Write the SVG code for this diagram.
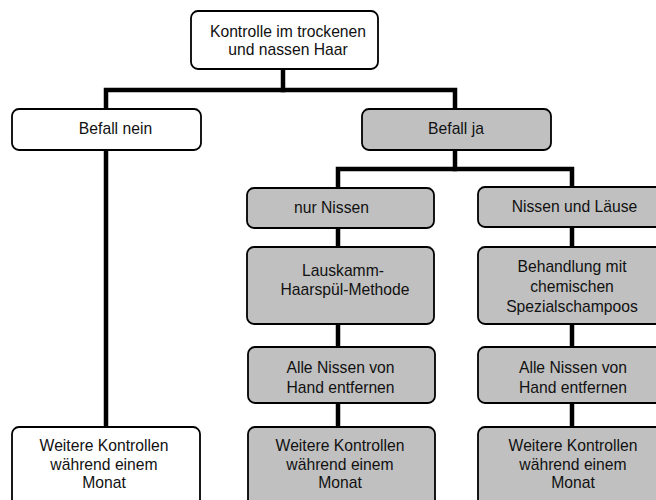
<svg xmlns="http://www.w3.org/2000/svg" width="656" height="500" viewBox="0 0 656 500">
<style>
.box{stroke:#000;stroke-width:1.8;}
.w{fill:#fff;}
.g{fill:#c0c0c0;}
.c{fill:none;stroke:#000;stroke-width:4.5;stroke-linecap:square;stroke-linejoin:miter;}
text{font-family:"Liberation Sans",Arial,sans-serif;font-size:15.7px;fill:#111;text-anchor:middle;}
</style>
<rect width="656" height="500" fill="#fff"/>
<g id="connectors">
<path class="c" d="M283,71 V90"/>
<path class="c" d="M106,108 V90 H455 V108"/>
<path class="c" d="M106,151 V426"/>
<path class="c" d="M455,151 V169"/>
<path class="c" d="M338,187 V169 H572 V186"/>
<path class="c" d="M338,229 V246"/>
<path class="c" d="M338,325 V346"/>
<path class="c" d="M338,404 V426"/>
<path class="c" d="M572,228 V246"/>
<path class="c" d="M572,325 V346"/>
<path class="c" d="M572,404 V426"/>
</g>
<g id="n-top">
<rect class="box w" x="191" y="11" width="187" height="58" rx="7"/>
<text x="288" y="37">Kontrolle im trockenen</text>
<text x="288" y="55">und nassen Haar</text>
</g>
<g id="n-nein">
<rect class="box w" x="12" y="109" width="189" height="41" rx="7"/>
<text x="115.5" y="134">Befall nein</text>
</g>
<g id="n-ja">
<rect class="box g" x="362" y="109" width="189" height="41" rx="7"/>
<text x="456" y="134">Befall ja</text>
</g>
<g id="n-nur-nissen">
<rect class="box g" x="247" y="188" width="187" height="40" rx="7"/>
<text x="331.5" y="213">nur Nissen</text>
</g>
<g id="n-nissen-laeuse">
<rect class="box g" x="478" y="187" width="192" height="40" rx="7"/>
<text x="574.5" y="212">Nissen und Läuse</text>
</g>
<g id="n-lauskamm">
<rect class="box g" x="247" y="247" width="187" height="77" rx="7"/>
<text x="343" y="276">Lauskamm-</text>
<text x="345" y="295">Haarspül-Methode</text>
</g>
<g id="n-behandlung">
<rect class="box g" x="478" y="247" width="192" height="77" rx="7"/>
<text x="572" y="272">Behandlung mit</text>
<text x="572" y="292">chemischen</text>
<text x="572" y="312">Spezialschampoos</text>
</g>
<g id="n-alle-l">
<rect class="box g" x="248" y="347" width="187" height="56" rx="7"/>
<text x="340.5" y="373">Alle Nissen von</text>
<text x="340.5" y="392.5">Hand entfernen</text>
</g>
<g id="n-alle-r">
<rect class="box g" x="478" y="347" width="192" height="56" rx="7"/>
<text x="573" y="373">Alle Nissen von</text>
<text x="573" y="392.5">Hand entfernen</text>
</g>
<g id="n-weitere-l">
<rect class="box w" x="12" y="427" width="188" height="90" rx="7"/>
<text x="104" y="451">Weitere Kontrollen</text>
<text x="104" y="469.5">während einem</text>
<text x="104" y="488">Monat</text>
</g>
<g id="n-weitere-m">
<rect class="box g" x="248" y="427" width="187" height="90" rx="7"/>
<text x="340" y="451">Weitere Kontrollen</text>
<text x="340" y="469.5">während einem</text>
<text x="340" y="488">Monat</text>
</g>
<g id="n-weitere-r">
<rect class="box g" x="478" y="427" width="192" height="90" rx="7"/>
<text x="573" y="451">Weitere Kontrollen</text>
<text x="573" y="469.5">während einem</text>
<text x="573" y="488">Monat</text>
</g>
</svg>
